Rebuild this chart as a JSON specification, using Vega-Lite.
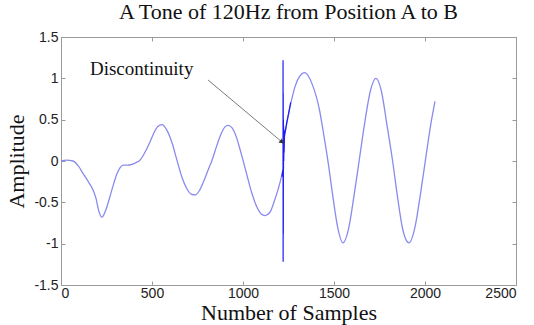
{
  "$schema": "https://vega.github.io/schema/vega-lite/v6.json",
  "width": 455,
  "height": 248,
  "autosize": {"type": "none"},
  "padding": {"left": 61, "top": 37, "right": 18, "bottom": 40},
  "background": "white",
  "title": {"text": "A Tone of 120Hz from Position A to B", "font": "Liberation Serif", "fontSize": 22, "fontWeight": "normal", "color": "#111", "offset": 6, "anchor": "middle"},
  "config": {
    "view": {"stroke": "#9a9a9a", "strokeWidth": 1},
    "axis": {"grid": false, "domain": false, "tickSize": -4, "tickColor": "#9a9a9a", "labelFont": "Liberation Sans", "labelFontSize": 14, "labelColor": "#222", "titleFont": "Liberation Serif", "titleFontSize": 22, "titleFontWeight": "normal", "titleColor": "#111"}
  },
  "datasets": {
    "curve": [
      {"n": 0, "amp": 0.0, "seg": "a"}, {"n": 30, "amp": 0.01, "seg": "a"}, {"n": 66, "amp": 0.0, "seg": "a"}, {"n": 95, "amp": -0.06, "seg": "a"},
      {"n": 121, "amp": -0.15, "seg": "a"}, {"n": 150, "amp": -0.25, "seg": "a"}, {"n": 176, "amp": -0.35, "seg": "a"}, {"n": 192, "amp": -0.45, "seg": "a"},
      {"n": 207, "amp": -0.6, "seg": "a"}, {"n": 225, "amp": -0.68, "seg": "a"}, {"n": 245, "amp": -0.6, "seg": "a"}, {"n": 269, "amp": -0.43, "seg": "a"},
      {"n": 290, "amp": -0.27, "seg": "a"}, {"n": 308, "amp": -0.15, "seg": "a"}, {"n": 325, "amp": -0.08, "seg": "a"}, {"n": 341, "amp": -0.05, "seg": "a"},
      {"n": 365, "amp": -0.05, "seg": "a"}, {"n": 390, "amp": -0.04, "seg": "a"}, {"n": 412, "amp": -0.02, "seg": "a"}, {"n": 434, "amp": 0.01, "seg": "a"},
      {"n": 460, "amp": 0.1, "seg": "a"}, {"n": 489, "amp": 0.23, "seg": "a"}, {"n": 515, "amp": 0.36, "seg": "a"}, {"n": 533, "amp": 0.42, "seg": "a"},
      {"n": 555, "amp": 0.44, "seg": "a"}, {"n": 580, "amp": 0.38, "seg": "a"}, {"n": 610, "amp": 0.22, "seg": "a"}, {"n": 637, "amp": 0.01, "seg": "a"},
      {"n": 665, "amp": -0.2, "seg": "a"}, {"n": 690, "amp": -0.33, "seg": "a"}, {"n": 715, "amp": -0.4, "seg": "a"}, {"n": 736, "amp": -0.41, "seg": "a"},
      {"n": 760, "amp": -0.36, "seg": "a"}, {"n": 785, "amp": -0.24, "seg": "a"}, {"n": 810, "amp": -0.1, "seg": "a"}, {"n": 830, "amp": 0.01, "seg": "a"},
      {"n": 855, "amp": 0.18, "seg": "a"}, {"n": 880, "amp": 0.33, "seg": "a"}, {"n": 900, "amp": 0.41, "seg": "a"}, {"n": 918, "amp": 0.43, "seg": "a"},
      {"n": 940, "amp": 0.4, "seg": "a"}, {"n": 965, "amp": 0.28, "seg": "a"}, {"n": 985, "amp": 0.13, "seg": "a"}, {"n": 1000, "amp": 0.01, "seg": "a"},
      {"n": 1025, "amp": -0.2, "seg": "a"}, {"n": 1050, "amp": -0.4, "seg": "a"}, {"n": 1075, "amp": -0.55, "seg": "a"}, {"n": 1100, "amp": -0.64, "seg": "a"},
      {"n": 1121, "amp": -0.66, "seg": "a"}, {"n": 1148, "amp": -0.62, "seg": "a"}, {"n": 1170, "amp": -0.5, "seg": "a"}, {"n": 1192, "amp": -0.35, "seg": "a"},
      {"n": 1210, "amp": -0.2, "seg": "a"}, {"n": 1220, "amp": -0.1, "seg": "a"},
      {"n": 1231, "amp": 0.34, "seg": "b"}, {"n": 1258, "amp": 0.65, "seg": "b"}, {"n": 1286, "amp": 0.9, "seg": "b"}, {"n": 1310, "amp": 1.02, "seg": "b"},
      {"n": 1340, "amp": 1.07, "seg": "b"}, {"n": 1380, "amp": 0.93, "seg": "b"}, {"n": 1420, "amp": 0.62, "seg": "b"}, {"n": 1445, "amp": 0.3, "seg": "b"},
      {"n": 1470, "amp": -0.05, "seg": "b"}, {"n": 1495, "amp": -0.45, "seg": "b"}, {"n": 1520, "amp": -0.8, "seg": "b"}, {"n": 1549, "amp": -0.99, "seg": "b"},
      {"n": 1580, "amp": -0.82, "seg": "b"}, {"n": 1610, "amp": -0.42, "seg": "b"}, {"n": 1640, "amp": 0.03, "seg": "b"}, {"n": 1670, "amp": 0.48, "seg": "b"},
      {"n": 1700, "amp": 0.85, "seg": "b"}, {"n": 1730, "amp": 1.0, "seg": "b"}, {"n": 1760, "amp": 0.85, "seg": "b"}, {"n": 1790, "amp": 0.45, "seg": "b"},
      {"n": 1822, "amp": 0.0, "seg": "b"}, {"n": 1850, "amp": -0.45, "seg": "b"}, {"n": 1880, "amp": -0.85, "seg": "b"}, {"n": 1912, "amp": -0.99, "seg": "b"},
      {"n": 1945, "amp": -0.8, "seg": "b"}, {"n": 1975, "amp": -0.4, "seg": "b"}, {"n": 2005, "amp": 0.05, "seg": "b"}, {"n": 2030, "amp": 0.42, "seg": "b"},
      {"n": 2055, "amp": 0.72, "seg": "b"}
    ],
    "spike": [
      {"i": 0, "n": 1214, "amp": -0.19}, {"i": 1, "n": 1220, "amp": -0.1}, {"i": 2, "n": 1220, "amp": 1.22}, {"i": 3, "n": 1220.5, "amp": -1.22},
      {"i": 4, "n": 1221, "amp": 0.82}, {"i": 5, "n": 1221.5, "amp": -0.88}, {"i": 6, "n": 1222, "amp": 0.5}, {"i": 7, "n": 1222.5, "amp": -0.1},
      {"i": 8, "n": 1223, "amp": 0.42}, {"i": 9, "n": 1224, "amp": 0.0}, {"i": 10, "n": 1225, "amp": 0.38}, {"i": 11, "n": 1226, "amp": 0.1},
      {"i": 12, "n": 1228, "amp": 0.3}, {"i": 13, "n": 1231, "amp": 0.34}, {"i": 14, "n": 1240, "amp": 0.46}, {"i": 15, "n": 1250, "amp": 0.57},
      {"i": 16, "n": 1262, "amp": 0.71}
    ],
    "note": [
      {"label": "Discontinuity", "n": 159, "amp": 1.04, "n2": 808, "amp2": 0.98, "tipn": 1214, "tipamp": 0.23}
    ]
  },
  "resolve": {"axis": {"x": "independent", "y": "independent"}},
  "layer": [
    {
      "layer": [
        {
          "data": {"name": "curve"},
          "mark": {"type": "line", "interpolate": "monotone", "color": "#8a8aee", "strokeWidth": 1.3},
          "encoding": {
            "x": {"field": "n", "type": "quantitative", "scale": {"domain": [0, 2500], "nice": false},
              "axis": {"orient": "bottom", "values": [0, 500, 1000, 1500, 2000, 2500], "format": "d", "title": "Number of Samples", "labelPadding": 5, "titlePadding": 2}},
            "y": {"field": "amp", "type": "quantitative", "scale": {"domain": [-1.5, 1.5], "nice": false, "zero": false},
              "axis": {"orient": "left", "values": [-1.5, -1, -0.5, 0, 0.5, 1, 1.5], "title": "Amplitude", "labelPadding": 7, "titlePadding": 5,
                "labelExpr": "datum.value == 0 ? '0' : (datum.value < 0 ? '-' : '') + format(abs(datum.value), '~g')"}},
            "detail": {"field": "seg"}
          }
        },
        {
          "data": {"name": "spike"},
          "mark": {"type": "line", "interpolate": "linear", "color": "#1e1ef2", "strokeWidth": 1.2},
          "encoding": {
            "x": {"field": "n", "type": "quantitative"},
            "y": {"field": "amp", "type": "quantitative"},
            "order": {"field": "i", "type": "quantitative"}
          }
        },
        {
          "data": {"name": "note"},
          "mark": {"type": "rule", "color": "#7a7a7a", "strokeWidth": 1},
          "encoding": {
            "x": {"field": "n2", "type": "quantitative"},
            "y": {"field": "amp2", "type": "quantitative"},
            "x2": {"field": "tipn"},
            "y2": {"field": "tipamp"}
          }
        },
        {
          "data": {"name": "note"},
          "mark": {"type": "point", "shape": "triangle-right", "filled": true, "color": "#333", "size": 28, "angle": 40, "opacity": 1},
          "encoding": {
            "x": {"field": "tipn", "type": "quantitative"},
            "y": {"field": "tipamp", "type": "quantitative"}
          }
        },
        {
          "data": {"name": "note"},
          "mark": {"type": "text", "font": "Liberation Serif", "fontSize": 19, "align": "left", "baseline": "alphabetic", "color": "#111"},
          "encoding": {
            "x": {"field": "n", "type": "quantitative"},
            "y": {"field": "amp", "type": "quantitative"},
            "text": {"field": "label"}
          }
        }
      ]
    },
    {
      "data": {"name": "curve"},
      "mark": {"type": "point", "opacity": 0, "size": 1},
      "encoding": {
        "x": {"field": "n", "type": "quantitative", "axis": {"orient": "top", "values": [0, 500, 1000, 1500, 2000, 2500], "labels": false, "title": null}},
        "y": {"field": "amp", "type": "quantitative", "axis": {"orient": "right", "values": [-1.5, -1, -0.5, 0, 0.5, 1, 1.5], "labels": false, "title": null}}
      }
    }
  ]
}
